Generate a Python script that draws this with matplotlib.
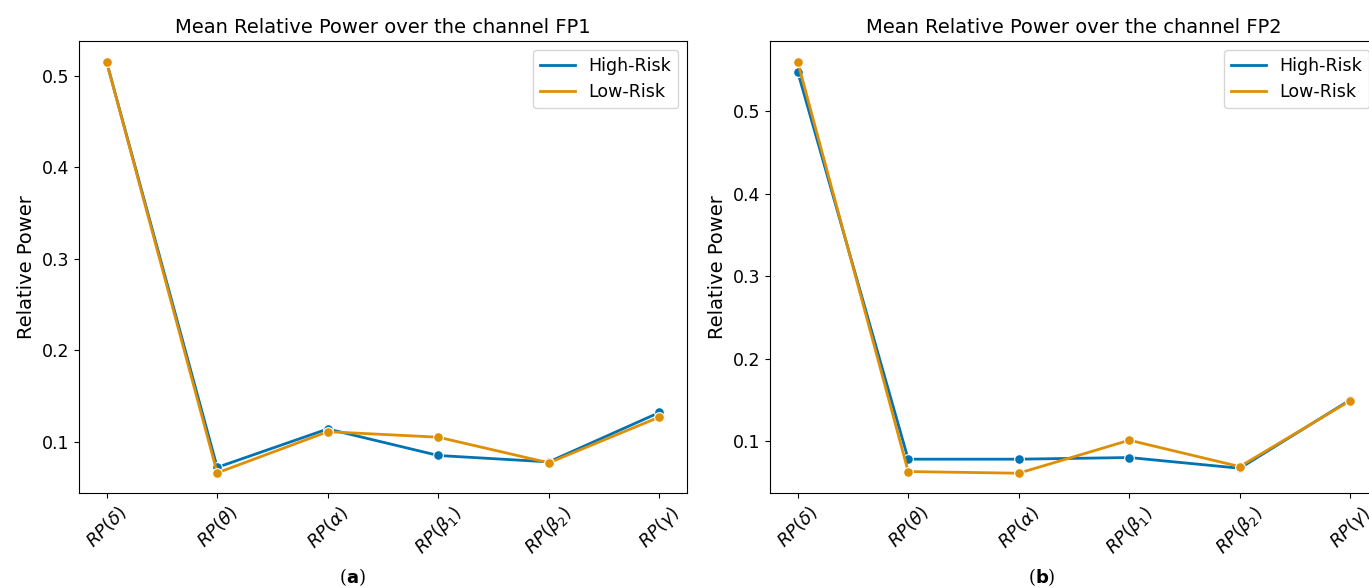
import numpy as np
import matplotlib.pyplot as plt
from matplotlib.lines import Line2D

# bandas de frecuencia
bands = [r'$RP(\delta)$', r'$RP(\theta)$', r'$RP(\alpha)$',
         r'$RP(\beta_1)$', r'$RP(\beta_2)$', r'$RP(\gamma)$']

# canal FP1
fp1_high = [0.515, 0.072, 0.114, 0.085, 0.078, 0.132]
fp1_low = [0.515, 0.066, 0.111, 0.105, 0.077, 0.127]

# canal FP2
fp2_high = [0.548, 0.078, 0.078, 0.080, 0.067, 0.150]
fp2_low = [0.560, 0.063, 0.061, 0.101, 0.069, 0.149]

blue = '#0173b2'
orange = '#de8f05'

fig = plt.figure(figsize=(13.69, 5.88), dpi=100)
W, H = 1369, 588

# el panel derecho queda cortado por el borde de la figura (como en el original)
ax1 = fig.add_axes([79/W, (H-493)/H, 608/W, 452/H])
ax2 = fig.add_axes([770/W, (H-493)/H, 608/W, 452/H])

x = np.arange(len(bands))

def panel(ax, hr, lr, canal, ylim):
    ax.plot(x, hr, color=blue, lw=2, marker='o', ms=7, mec='white', mew=0.8)
    ax.plot(x, lr, color=orange, lw=2, marker='o', ms=7, mec='white', mew=0.8)
    ax.set_xlim(-0.25, 5.25)
    ax.set_ylim(*ylim)
    ax.set_xticks(x)
    ax.set_xticklabels(bands, rotation=45, fontsize=13)
    ax.tick_params(axis='y', labelsize=12.5)
    ax.set_yticks([0.1, 0.2, 0.3, 0.4, 0.5])
    ax.set_ylabel('Relative Power', fontsize=14)
    ax.set_title('Mean Relative Power over the channel ' + canal, fontsize=14)
    handles = [Line2D([], [], color=blue, lw=2), Line2D([], [], color=orange, lw=2)]
    ax.legend(handles, ['High-Risk', 'Low-Risk'], loc='upper right', fontsize=12.5)

panel(ax1, fp1_high, fp1_low, 'FP1', (0.044, 0.538))
panel(ax2, fp2_high, fp2_low, 'FP2', (0.037, 0.585))

fig.text(352/W, 1 - 577/H, r'($\mathbf{a}$)', ha='center', va='center', fontsize=13, family='DejaVu Serif')
fig.text(1042/W, 1 - 577/H, r'($\mathbf{b}$)', ha='center', va='center', fontsize=13, family='DejaVu Serif')

plt.savefig('out.png', dpi=100)
